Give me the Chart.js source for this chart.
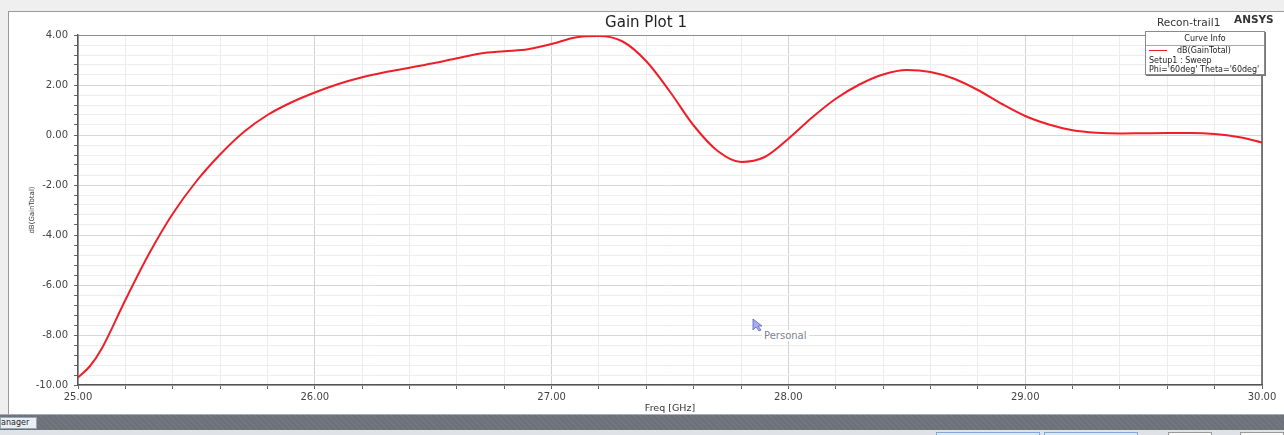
<!DOCTYPE html>
<html>
<head>
<meta charset="utf-8">
<script src="https://cdn.jsdelivr.net/npm/chart.js@4"></script>
<style>
    html, body { margin: 0; padding: 0; }
    body {
        width: 1284px;
        height: 435px;
        overflow: hidden;
        position: relative;
        background: #efefef;
        font-family: "DejaVu Sans", sans-serif;
    }
    #frame {
        position: absolute;
        left: 8px;
        top: 11px;
        width: 1276px;
        height: 403px;
        background: #ffffff;
        border-top: 1px solid #9a9a9a;
        border-left: 1px solid #9a9a9a;
        box-sizing: border-box;
    }
    #chart { position: absolute; left: 8px; top: 11px; }
    .label { position: absolute; white-space: nowrap; color: #222; }
    #plotTitle { left: 600px; top: 13px; width: 92px; text-align: center; font-size: 15px; }
    #design { left: 1157px; top: 16px; font-size: 10.5px; color: #333; }
    #vendor { left: 1234px; top: 13px; font-size: 10.5px; font-weight: bold; color: #333; }
    #curveInfo {
        position: absolute;
        left: 1145px;
        top: 31px;
        width: 120px;
        height: 44px;
        background: #fff;
        border: 1px solid #8a8a8a;
        box-shadow: 1px 1px 0 #777;
        font-size: 8px;
        color: #222;
        box-sizing: border-box;
        overflow: hidden;
    }
    #curveInfo .head { text-align: center; height: 13px; line-height: 13px; border-bottom: 1px solid #aaa; }
    #curveInfo .row { height: 9.5px; line-height: 9.5px; padding-left: 3px; }
    #curveInfo .row:first-of-type { margin-top: 1px; }
    #curveInfo .swatch { display: inline-block; width: 18px; height: 1.5px; background: #f01e28; vertical-align: middle; margin-right: 10px; }
    #personal { left: 762px; top: 330px; font-size: 10px; color: #7c8294; background: #fff; padding: 0 2px; }
    #cursor { position: absolute; left: 752px; top: 318px; }
    #taskbar {
        position: absolute;
        left: 0;
        top: 414px;
        width: 1284px;
        height: 16px;
        background: repeating-linear-gradient(45deg, #6c7079 0 2px, #72767f 2px 4px);
        border-top: 1px solid #a8acb3;
    }
    #tab {
        position: absolute;
        left: 0;
        top: 417px;
        width: 37px;
        height: 12px;
        background: #eaeff5;
        border: 1px solid #9aa6b4;
        box-sizing: border-box;
        font-size: 8px;
        line-height: 10px;
        color: #222;
        overflow: hidden;
    }
    #strip { position: absolute; left: 0; top: 430px; width: 1284px; height: 5px; background: #dfe3e8; }
    .btn { position: absolute; top: 432px; height: 6px; border: 1px solid #7fa9d8; background: #dce9f7; box-sizing: border-box; }
    .btn.plain { border-color: #9a9a9a; background: #fbfbfb; }
</style>
</head>
<body>
<div id="frame"></div>
<canvas id="chart" width="1276" height="403"></canvas>

<div class="label" id="plotTitle">Gain Plot 1</div>
<div class="label" id="design">Recon-trail1</div>
<div class="label" id="vendor">ANSYS</div>

<div id="curveInfo">
    <div class="head">Curve Info</div>
    <div class="row"><span class="swatch"></span>dB(GainTotal)</div>
    <div class="row">Setup1 : Sweep</div>
    <div class="row">Phi='60deg' Theta='60deg'</div>
</div>

<svg id="cursor" width="12" height="14" viewBox="0 0 12 14">
    <polygon points="1,1 1,12 4,9 7,13 9,12 6,8 10,8" fill="#a9aef0" stroke="#5d63b8" stroke-width="0.8"/>
</svg>
<div class="label" id="personal">Personal</div>

<div id="taskbar"></div>
<div id="tab">anager</div>
<div id="strip"></div>
<div class="btn" style="left:936px;width:104px;"></div>
<div class="btn" style="left:1044px;width:94px;"></div>
<div class="btn plain" style="left:1168px;width:44px;"></div>
<div class="btn plain" style="left:1240px;width:44px;"></div>

<script>
// Frequency sweep, GHz
const freqs = [
    25.0, 25.05, 25.1, 25.2, 25.3, 25.4, 25.5, 25.6, 25.7, 25.8, 25.9,
    26.0, 26.1, 26.2, 26.3, 26.4, 26.5, 26.6, 26.7, 26.8, 26.9,
    27.0, 27.1, 27.2, 27.3, 27.4, 27.5, 27.6, 27.7, 27.8, 27.9,
    28.0, 28.1, 28.2, 28.3, 28.4, 28.5, 28.6, 28.7, 28.8, 28.9,
    29.0, 29.1, 29.2, 29.3, 29.4, 29.5, 29.6, 29.7, 29.8, 29.9,
    30.0
];

// dB(GainTotal)
const gainDb = [
    -9.70, -9.25, -8.55, -6.60, -4.75, -3.15, -1.85, -0.78, 0.12, 0.80, 1.30,
    1.70, 2.04, 2.31, 2.52, 2.69, 2.87, 3.07, 3.26, 3.35, 3.43,
    3.64, 3.90, 3.96, 3.74, 2.95, 1.73, 0.38, -0.63, -1.08, -0.88,
    -0.15, 0.70, 1.45, 2.02, 2.42, 2.60, 2.52, 2.25, 1.80, 1.25,
    0.76, 0.42, 0.19, 0.09, 0.06, 0.07, 0.08, 0.08, 0.04, -0.08,
    -0.30
];

const xRange = [25, 30];
const yRange = [-10, 4];
const xStep = 0.2;
const yStep = 0.4;

function isMultiple(v, m) {
    return Math.abs(v / m - Math.round(v / m)) < 1e-6;
}

// top and right edges of the plot box
const plotFrame = {
    id: 'plotFrame',
    afterDraw(chart) {
        const { ctx, chartArea: a } = chart;
        ctx.save();
        ctx.lineWidth = 1;
        ctx.strokeStyle = '#8c8c8c';
        ctx.beginPath();
        ctx.moveTo(a.left, a.top + 0.5);
        ctx.lineTo(a.right, a.top + 0.5);
        ctx.stroke();
        ctx.strokeStyle = '#555';
        ctx.lineWidth = 1.5;
        ctx.beginPath();
        ctx.moveTo(a.right, a.top);
        ctx.lineTo(a.right, a.bottom);
        ctx.stroke();
        ctx.restore();
    }
};

const tickFont = { family: 'DejaVu Sans', size: 10 };

new Chart(document.getElementById('chart').getContext('2d'), {
    type: 'line',
    data: {
        datasets: [{
            label: 'dB(GainTotal)',
            data: freqs.map((f, i) => ({ x: f, y: gainDb[i] })),
            borderColor: '#f01e28',
            borderWidth: 2,
            pointRadius: 0,
            cubicInterpolationMode: 'monotone',
            fill: false
        }]
    },
    options: {
        responsive: false,
        animation: false,
        devicePixelRatio: 1,
        layout: { padding: { left: 0, top: 24, right: 22, bottom: 0 } },
        plugins: {
            legend: { display: false },
            tooltip: { enabled: false }
        },
        scales: {
            x: {
                type: 'linear',
                min: xRange[0],
                max: xRange[1],
                afterFit: scale => { scale.height = 29; },
                ticks: {
                    stepSize: xStep,
                    autoSkip: false,
                    maxRotation: 0,
                    padding: 2,
                    color: '#444',
                    font: tickFont,
                    callback: v => isMultiple(v, 1) ? v.toFixed(2) : ''
                },
                grid: {
                    color: ctx => isMultiple(ctx.tick.value, 1) ? '#d2d2d2' : '#ececec',
                    tickColor: '#666',
                    tickLength: 4
                },
                border: { color: '#555', width: 1.5 },
                title: {
                    display: true,
                    text: 'Freq [GHz]',
                    color: '#333',
                    font: { family: 'DejaVu Sans', size: 9.5 },
                    padding: { top: 0, bottom: 0 }
                }
            },
            y: {
                min: yRange[0],
                max: yRange[1],
                afterFit: scale => { scale.width = 70; },
                ticks: {
                    stepSize: yStep,
                    autoSkip: false,
                    padding: 6,
                    color: '#444',
                    font: tickFont,
                    callback: v => isMultiple(v, 2) ? v.toFixed(2) : ''
                },
                grid: {
                    color: ctx => isMultiple(ctx.tick.value, 2) ? '#d8d8d8' : '#ededed',
                    tickColor: '#666',
                    tickLength: 4
                },
                border: { color: '#555', width: 1.5 },
                title: {
                    display: true,
                    text: 'dB(GainTotal)',
                    color: '#333',
                    font: { family: 'DejaVu Sans', size: 7 },
                    padding: { top: 20, bottom: 0 }
                }
            }
        }
    },
    plugins: [plotFrame]
});
</script>
</body>
</html>
